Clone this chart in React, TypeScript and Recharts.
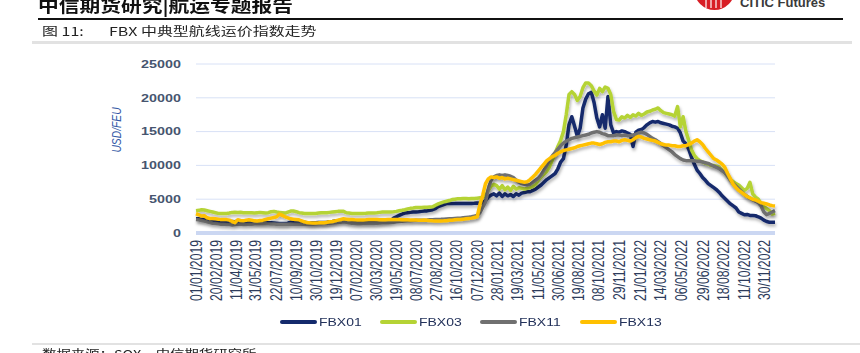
import { CartesianGrid, Line, LineChart, XAxis, YAxis } from "recharts";

// weekly readings, first week starts 01/01/2019
const START = Date.UTC(2019, 0, 1);
const WEEK_MS = 7 * 24 * 3600 * 1000;

const FBX01 = [
  2100, 2100, 2050, 2000, 1950, 1850, 1800, 1780, 1750, 1700,
  1650, 1630, 1650, 1700, 1680, 1750, 1700, 1650, 1630, 1600,
  1580, 1550, 1550, 1520, 1550, 1500, 1500, 1500, 1480, 1450,
  1420, 1400, 1390, 1450, 1630, 1550, 1500, 1520, 1600, 1580,
  1500, 1480, 1500, 1520, 1550, 1550, 1560, 1600, 1650, 1700,
  1780, 1830, 1880, 1850, 1750, 1700, 1650, 1640, 1630, 1620,
  1600, 1590, 1580, 1590, 1600, 1620, 1630, 1680, 1750, 1800,
  1850, 2200, 2400, 2600, 2800, 2950, 3000, 3050, 3100, 3120,
  3150, 3200, 3250, 3270, 3350, 3450, 3600, 3900, 4050, 4200,
  4350, 4350, 4350, 4360, 4350, 4350, 4360, 4350, 4350, 4360,
  4400, 4450, 4400, 4500, 4800, 5300, 5600, 5800, 5500, 5900,
  5400, 5800, 5500, 5700, 5400, 5800, 5600, 5900, 6000, 6100,
  6100, 6300, 6500, 6800, 7100, 7500, 7900, 8200, 8500, 8800,
  9500, 10500, 11000, 13000, 16000, 17200, 15800, 14300, 15500, 18500,
  19800, 20600, 20800, 19300, 17000, 15700, 17500, 15500, 20200, 16000,
  14800, 15000, 14900, 15100, 15000, 14800, 14600, 12800, 14900, 15200,
  15300, 15600, 16000, 16300, 16500, 16400, 16500, 16300, 16200, 16100,
  16000, 15800, 15700, 15500, 14800, 13600, 13200, 12400, 11200, 10200,
  9300, 8800, 8200, 7800, 7300, 7000, 6700, 6400, 6000, 5500,
  5100, 4700, 4300, 4000, 3700, 3100, 2900, 2700, 2750, 2600,
  2600, 2550, 2400, 2200, 1900, 1700, 1600, 1600, 1600,
];

const FBX03 = [
  3300, 3350, 3450, 3400, 3300, 3200, 3100, 3000, 2900, 2870,
  2870, 2900, 2950, 3050, 3070, 3050, 3070, 3000, 3000, 3000,
  2980, 2950, 3000, 3050, 3000, 2950, 3000, 3150, 3200, 3100,
  3050, 3000, 2950, 3100, 3250, 3250, 3150, 3000, 2950, 2900,
  2870, 2870, 2870, 2900, 2950, 3000, 3000, 3000, 3050, 3100,
  3150, 3200, 3200, 3200, 3000, 2950, 2900, 2880, 2870, 2870,
  2900, 2920, 2950, 2950, 2970, 3000, 3050, 3100, 3120, 3120,
  3120, 3150, 3200, 3300, 3370, 3450, 3550, 3650, 3700, 3760,
  3760, 3770, 3800, 3820, 3850, 3870, 4100, 4300, 4450, 4600,
  4700, 4800, 4950, 5000, 5050, 5050, 5100, 5100, 5050, 5100,
  5100, 5150, 5200, 5300, 5500, 6300, 6900, 7200, 7000, 6500,
  7000, 6400, 6800, 6300, 6900, 6500, 6700, 6600, 6500, 6600,
  6700, 6900, 7200, 7800, 8300, 8700, 9100, 9800, 10800, 11800,
  12800, 13700, 15000, 17500, 20500, 20900, 20500, 19600, 20200, 21500,
  22200, 22200, 21800, 21000, 20400, 21400, 20900, 21600, 21400, 20500,
  18000, 16800, 16700, 17200, 17000, 17400, 17100, 17500, 17300, 17700,
  17400, 17600, 17900, 18000, 18200, 18300, 18500, 18100, 17800, 17700,
  17600, 17500, 17300, 18700, 15700, 17200, 15000, 13700, 12300, 11500,
  11000, 10700, 10500, 10300, 10200, 10000, 10000, 9900, 9700, 9300,
  8900, 8400, 7900, 7600, 7300, 7100, 6700, 6300, 6600, 7500,
  5800, 5300, 5000, 4300, 3900, 3600, 3300, 2800, 2900,
];

const FBX11 = [
  2000, 1950, 1850, 1750, 1650, 1550, 1450, 1400, 1350, 1300,
  1300, 1250, 1250, 1200, 1250, 1300, 1280, 1250, 1250, 1300,
  1300, 1350, 1350, 1380, 1400, 1380, 1350, 1330, 1320, 1300,
  1300, 1280, 1280, 1300, 1320, 1300, 1280, 1280, 1300, 1300,
  1280, 1300, 1300, 1320, 1350, 1380, 1400, 1420, 1450, 1480,
  1500, 1550, 1600, 1650, 1600, 1500, 1450, 1400, 1380, 1380,
  1400, 1400, 1420, 1400, 1420, 1450, 1480, 1500, 1520, 1530,
  1550, 1600, 1650, 1700, 1750, 1780, 1800, 1820, 1850, 1870,
  1880, 1880, 1900, 1920, 1950, 1950, 1980, 2000, 2020, 2050,
  2080, 2100, 2120, 2150, 2180, 2200, 2250, 2300, 2350, 2400,
  2500, 2600, 3000, 3800, 4600, 6500, 7800, 8300, 8500, 8600,
  8500, 8600, 8500, 8400, 8200, 7800, 7500, 7300, 7200, 7100,
  7200, 7500, 7800, 8100, 8600, 9300, 10000, 10800, 11400, 11900,
  12400, 12900, 13300, 13600, 13800, 14000, 14100, 14200, 14300, 14400,
  14500, 14600, 14800, 14900, 15000, 14900, 14700, 14600, 14400, 14400,
  14400, 14500, 14500, 14400, 14500, 14400, 14400, 14500, 14600, 14800,
  14900, 14800, 14600, 14300, 14000, 13800, 13500, 13200, 12900, 12600,
  12300, 12000, 11600, 11300, 11000, 10800, 10700, 10700, 10700, 10700,
  10600, 10600, 10500, 10400, 10300, 10100, 9900, 9700, 9500, 9200,
  8900, 8400, 7800, 7300, 6900, 6500, 6100, 5700, 5400, 5100,
  4900, 4700, 4500, 4000, 3100, 2700, 2900, 3100, 3300,
];

const FBX13 = [
  2850, 2700, 2500, 2550, 2250, 2150, 2150, 2100, 2050, 1980,
  1980, 1980, 1900, 1700, 1550, 1950, 1850, 1800, 1900, 1950,
  1900, 1800, 1780, 1850, 1900, 2000, 2100, 2200, 2300, 2400,
  2800, 2600, 2400, 2250, 2100, 2050, 2000, 1950, 1800, 1650,
  1550, 1500, 1490, 1490, 1500, 1520, 1530, 1580, 1650, 1700,
  1800, 1900, 2000, 2100, 2050, 2000, 1980, 1950, 1930, 1920,
  1930, 1950, 1980, 2000, 2000, 1980, 1960, 1950, 1960, 1980,
  1980, 1980, 1980, 1980, 1970, 1960, 1950, 1940, 1930, 1920,
  1900, 1900, 1920, 1880, 1830, 1800, 1780, 1780, 1790, 1800,
  1820, 1870, 1900, 1950, 1980, 2000, 2050, 2100, 2150, 2200,
  2300, 2400, 4200, 5600, 7300, 8000, 8300, 8200, 8300, 8100,
  8200, 8000, 8100, 8000, 7900, 7800, 7700, 7600, 7500, 7600,
  7900, 8300, 8700, 9200, 9700, 10200, 10700, 11000, 11300, 11500,
  11800, 12000, 12200, 12300, 12400, 12500, 12600, 12800, 12900, 13000,
  13100, 13200, 13300, 13300, 13200, 13100, 13200, 13400, 13500, 13500,
  13600, 13600, 13500, 13700, 13800, 13700, 13600, 13800, 14100, 14300,
  14200, 14000, 13900, 13800, 13700, 13600, 13400, 13200, 13100, 13000,
  13000, 12900, 12900, 12800, 12800, 12900, 12900, 13100, 13300, 13600,
  13800, 13500, 13100, 12500, 12000, 11500, 11000, 10800, 10500, 10200,
  9700, 8800, 8000, 7200, 6700, 6300, 6000, 5700, 5400, 5200,
  5000, 4900, 4700, 4500, 4400, 4300, 4150, 4050, 4000,
];

const TICK_LABELS = [
  "01/01/2019", "20/02/2019", "11/04/2019", "31/05/2019", "22/07/2019",
  "10/09/2019", "30/10/2019", "19/12/2019", "07/02/2020", "30/03/2020",
  "19/05/2020", "08/07/2020", "27/08/2020", "16/10/2020", "07/12/2020",
  "28/01/2021", "19/03/2021", "11/05/2021", "30/06/2021", "19/08/2021",
  "08/10/2021", "29/11/2021", "21/01/2022", "14/03/2022", "06/05/2022",
  "29/06/2022", "18/08/2022", "11/10/2022", "30/11/2022",
];

const Y_TICKS = [0, 5000, 10000, 15000, 20000, 25000];

const SERIES = [
  { key: "FBX01", color: "#142a6c" },
  { key: "FBX03", color: "#b5d335" },
  { key: "FBX11", color: "#707070" },
  { key: "FBX13", color: "#ffc000" },
];

const parseDay = (s: string) => {
  const [d, m, y] = s.split("/").map(Number);
  return Date.UTC(y, m - 1, d);
};
const TICKS = TICK_LABELS.map(parseDay);
const labelOf = new Map(TICKS.map((t, i) => [t, TICK_LABELS[i]]));

const data = FBX01.map((v, i) => ({
  t: START + i * WEEK_MS,
  FBX01: v,
  FBX03: FBX03[i],
  FBX11: FBX11[i],
  FBX13: FBX13[i],
}));

const AXIS_FONT = "'Liberation Sans', Arial, sans-serif";
const CJK_FONT = "'Noto Sans CJK SC', sans-serif";
// the whole page image is stretched sideways a little
const STRETCH = 1.33;

function XTick({ x, y, payload }: any) {
  return (
    <g transform={`translate(${x},${y}) scale(${STRETCH},1) rotate(-90)`}>
      <text x={0} y={0} dy="0.36em" textAnchor="end" fontSize={12.2} fontFamily={AXIS_FONT} fill="#2d3b5b">
        {labelOf.get(payload.value)}
      </text>
    </g>
  );
}

function YTick({ x, y, payload }: any) {
  return (
    <g transform={`translate(${x},${y}) scale(${STRETCH},1)`}>
      <text x={0} y={0} dy="0.36em" textAnchor="end" fontSize={10.8} fontWeight={700} fontFamily={AXIS_FONT} fill="#46556f">
        {payload.value}
      </text>
    </g>
  );
}

function Stretched({ children, style }: { children: React.ReactNode; style: React.CSSProperties }) {
  return (
    <div style={{ position: "absolute", whiteSpace: "nowrap", transformOrigin: "0 0", ...style }}>{children}</div>
  );
}

export default function App() {
  return (
    <div style={{ position: "absolute", left: 0, top: 0, width: 860, height: 353, overflow: "hidden", background: "#fff" }}>
      {/* page header */}
      <Stretched
        style={{ left: 38, top: -4, fontFamily: CJK_FONT, fontWeight: 700, fontSize: 17, lineHeight: "17px", color: "#111", transform: "scaleX(1.22)" }}
      >
        中信期货研究|航运专题报告
      </Stretched>
      <svg width={160} height={20} style={{ position: "absolute", left: 690, top: 0 }}>
        <circle cx={24.5} cy={-10.3} r={20.3} fill="#d81e25" />
        {[16, 21, 26, 31].map((lx) => (
          <line key={lx} x1={lx} y1={0} x2={lx} y2={8} stroke="#fff" strokeWidth={1.2} />
        ))}
        <text x={50} y={6.5} fontFamily={AXIS_FONT} fontWeight={700} fontSize={13} fill="#3a3a3a">
          CITIC Futures
        </text>
      </svg>
      <div style={{ position: "absolute", left: 38, top: 18, width: 805, height: 2, background: "#111" }} />
      <Stretched style={{ left: 42, top: 25, fontFamily: CJK_FONT, fontSize: 12, lineHeight: "12px", color: "#222", transform: `scaleX(${STRETCH})` }}>
        图 11:
      </Stretched>
      <Stretched style={{ left: 109, top: 25, fontFamily: CJK_FONT, fontSize: 12, lineHeight: "12px", color: "#222", transform: `scaleX(${STRETCH})` }}>
        FBX 中典型航线运价指数走势
      </Stretched>
      <div style={{ position: "absolute", left: 32, top: 41, width: 820, height: 2.5, background: "#e2e2e2" }} />

      <LineChart
        width={860}
        height={353}
        data={data}
        margin={{ top: 64, right: 85, bottom: 0, left: 0 }}
        style={{ position: "absolute", left: 0, top: 0 }}
      >
        <defs>
          <filter id="lineShadow" x="-5%" y="-10%" width="110%" height="140%">
            <feDropShadow dx={1} dy={2.5} stdDeviation={1.4} floodColor="#000" floodOpacity={0.3} />
          </filter>
        </defs>
        <CartesianGrid vertical={false} stroke="#d8e1f6" strokeWidth={1} />
        <XAxis
          type="number"
          dataKey="t"
          domain={[data[0].t, data[data.length - 1].t]}
          ticks={TICKS}
          interval={0}
          tick={<XTick />}
          tickLine={false}
          tickMargin={1}
          axisLine={{ stroke: "#cbd7f2", strokeWidth: 4 }}
          height={120}
        />
        <YAxis
          domain={[0, 25000]}
          ticks={Y_TICKS}
          interval={0}
          tick={<YTick />}
          tickLine={false}
          axisLine={false}
          tickMargin={9}
          width={196}
        />
        {SERIES.map((s) => (
          <Line
            key={s.key}
            dataKey={s.key}
            stroke={s.color}
            strokeWidth={3.5}
            strokeLinejoin="round"
            dot={false}
            isAnimationActive={false}
            filter="url(#lineShadow)"
          />
        ))}
      </LineChart>

      <Stretched
        style={{ left: 117, top: 130, transform: `scale(${STRETCH},1) rotate(-90deg) translate(-50%, -50%)`, transformOrigin: "0 0", fontFamily: AXIS_FONT, fontStyle: "italic", fontSize: 10.3, lineHeight: "12px", color: "#3459a6" }}
      >
        USD/FEU
      </Stretched>

      {/* legend */}
      <div style={{ position: "absolute", left: 280, top: 316, display: "flex", gap: 19, alignItems: "center" }}>
        {SERIES.map((s) => (
          <div key={s.key} style={{ display: "flex", alignItems: "center", width: 81 }}>
            <span style={{ display: "inline-block", width: 37, height: 4, background: s.color, borderRadius: 2 }} />
            <span
              style={{ display: "inline-block", marginLeft: 2, fontFamily: AXIS_FONT, fontSize: 10.5, lineHeight: "12px", color: "#22315a", transform: `scaleX(${STRETCH})`, transformOrigin: "0 50%" }}
            >
              {s.key}
            </span>
          </div>
        ))}
      </div>

      <div style={{ position: "absolute", left: 32, top: 342.5, width: 828, height: 2, background: "#e2e2e2" }} />
      <Stretched style={{ left: 42, top: 347.5, fontFamily: CJK_FONT, fontSize: 12, lineHeight: "12px", color: "#222", transform: "scaleX(1.2)" }}>
        数据来源：SOX，中信期货研究所
      </Stretched>
    </div>
  );
}
